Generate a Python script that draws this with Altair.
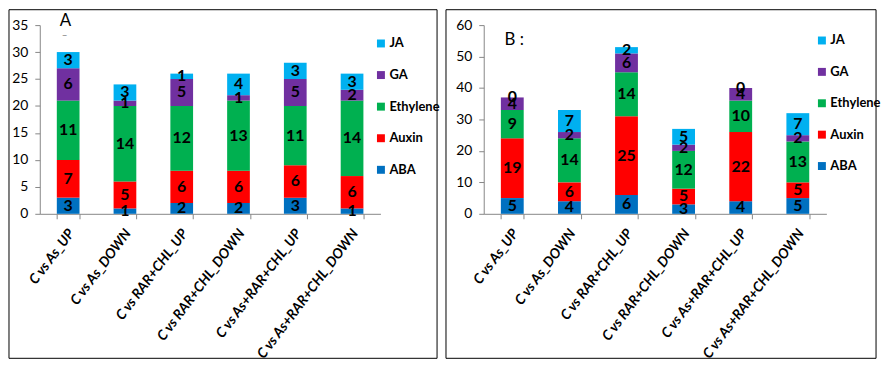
import altair as alt
import pandas as pd

categories = ["C vs As_UP", "C vs As_DOWN", "C vs RAR+CHL_UP",
              "C vs RAR+CHL_DOWN", "C vs As+RAR+CHL_UP", "C vs As+RAR+CHL_DOWN"]
hormones = ["ABA", "Auxin", "Ethylene", "GA", "JA"]
legend_order = ["JA", "GA", "Ethylene", "Auxin", "ABA"]
legend_colors = ["#00B0F0", "#7030A0", "#00B050", "#FF0000", "#0070C0"]

# Panel A
a_ABA = [3, 1, 2, 2, 3, 1]
a_Auxin = [7, 5, 6, 6, 6, 6]
a_Ethylene = [11, 14, 12, 13, 11, 14]
a_GA = [6, 1, 5, 1, 5, 2]
a_JA = [3, 3, 1, 4, 3, 3]

# Panel B
b_ABA = [5, 4, 6, 3, 4, 5]
b_Auxin = [19, 6, 25, 5, 22, 5]
b_Ethylene = [9, 14, 14, 12, 10, 13]
b_GA = [4, 2, 6, 2, 4, 2]
b_JA = [0, 7, 2, 5, 0, 7]


def make_df(series):
    rows = []
    for k, h in enumerate(hormones):
        for c, v in zip(categories, series[k]):
            rows.append({"category": c, "hormone": h, "value": v, "order": k})
    return pd.DataFrame(rows)


df_a = make_df([a_ABA, a_Auxin, a_Ethylene, a_GA, a_JA])
df_b = make_df([b_ABA, b_Auxin, b_Ethylene, b_GA, b_JA])

FONT = "Lato"


def panel(df, ymax, step, letters, box, legend_xy, row_pad, width):
    H = 190
    base = alt.Chart(df).transform_stack(
        stack="value", groupby=["category"], as_=["v0", "v1"],
        sort=[alt.SortField("order", order="ascending")]
    ).transform_calculate(mid="(datum.v0 + datum.v1) / 2")

    yscale = alt.Scale(domain=[0, ymax], nice=False, zero=True)
    xscale = alt.Scale(paddingInner=0.6, paddingOuter=0.3)
    xaxis = alt.Axis(title=None, labelAngle=-53, labelAlign="right",
                     labelBaseline="middle", labelFont=FONT,
                     labelFontSize=14, labelFontWeight="bold",
                     labelFontStyle="italic", labelColor="black",
                     labelPadding=12, labelOffset=3, tickBand="extent",
                     tickSize=5, domainColor="#868686",
                     tickColor="#868686", labelOverlap=False)
    yaxis = alt.Axis(title=None, values=list(range(0, ymax + 1, step)),
                     grid=False, labelFont=FONT, labelFontSize=14,
                     labelColor="black", tickSize=5, labelPadding=7,
                     labelOverlap=False,
                     domainColor="#868686", tickColor="#868686")
    bars = base.mark_bar().encode(
        x=alt.X("category:N", sort=categories, scale=xscale, axis=xaxis),
        y=alt.Y("v0:Q", scale=yscale, axis=yaxis),
        y2="v1:Q",
        color=alt.Color("hormone:N",
                        scale=alt.Scale(domain=legend_order, range=legend_colors),
                        legend=alt.Legend(title=None, orient="none",
                                          legendX=legend_xy[0], legendY=legend_xy[1],
                                          padding=0,
                                          symbolType="square", symbolSize=64,
                                          symbolStrokeWidth=0, labelFont=FONT,
                                          labelFontSize=13, labelFontWeight="bold",
                                          labelColor="black", rowPadding=row_pad,
                                          labelOffset=2)),
    )
    texts = base.mark_text(font=FONT, fontSize=16, fontWeight="bold",
                           color="black").encode(
        x=alt.X("category:N", sort=categories, scale=xscale, axis=xaxis),
        y=alt.Y("mid:Q", scale=yscale, axis=yaxis),
        text="value:Q",
    )
    one = pd.DataFrame({"d": [0]})
    layers = [bars, texts]
    for (txt, lx, ly, fs, col) in letters:
        layers.append(alt.Chart(one).mark_text(font=FONT, fontSize=fs, color=col,
                                               align="left").encode(
            x=alt.value(lx), y=alt.value(ly), text=alt.value(txt)))
    border = alt.Chart(one).mark_rect(filled=False, stroke="black", strokeWidth=1).encode(
        x=alt.value(box[0]), x2=alt.value(box[1]), y=alt.value(box[2]), y2=alt.value(box[3]))
    layers.append(border)
    return alt.layer(*layers).properties(width=width, height=H)


pa = panel(df_a, 35, 5, [("A", 20, -4, 17, "black"), ("–", 22, 10, 10, "#777777")],
           (-31, 400, -15.5, 335.5), (337, 12), 17.8, 343)
pb = panel(df_b, 60, 10, [("B :", 21, 15, 17, "black")],
           (-38, 395, -15.5, 335.5), (334, 9), 17.6, 345)

chart = alt.hconcat(pa, pb, spacing=5).resolve_scale(color="independent").properties(
    padding={"left": 0, "right": 0, "top": 0, "bottom": 0}
).configure_view(stroke=None)

chart.save("out.html", embed_options={"renderer": "svg", "actions": False})
